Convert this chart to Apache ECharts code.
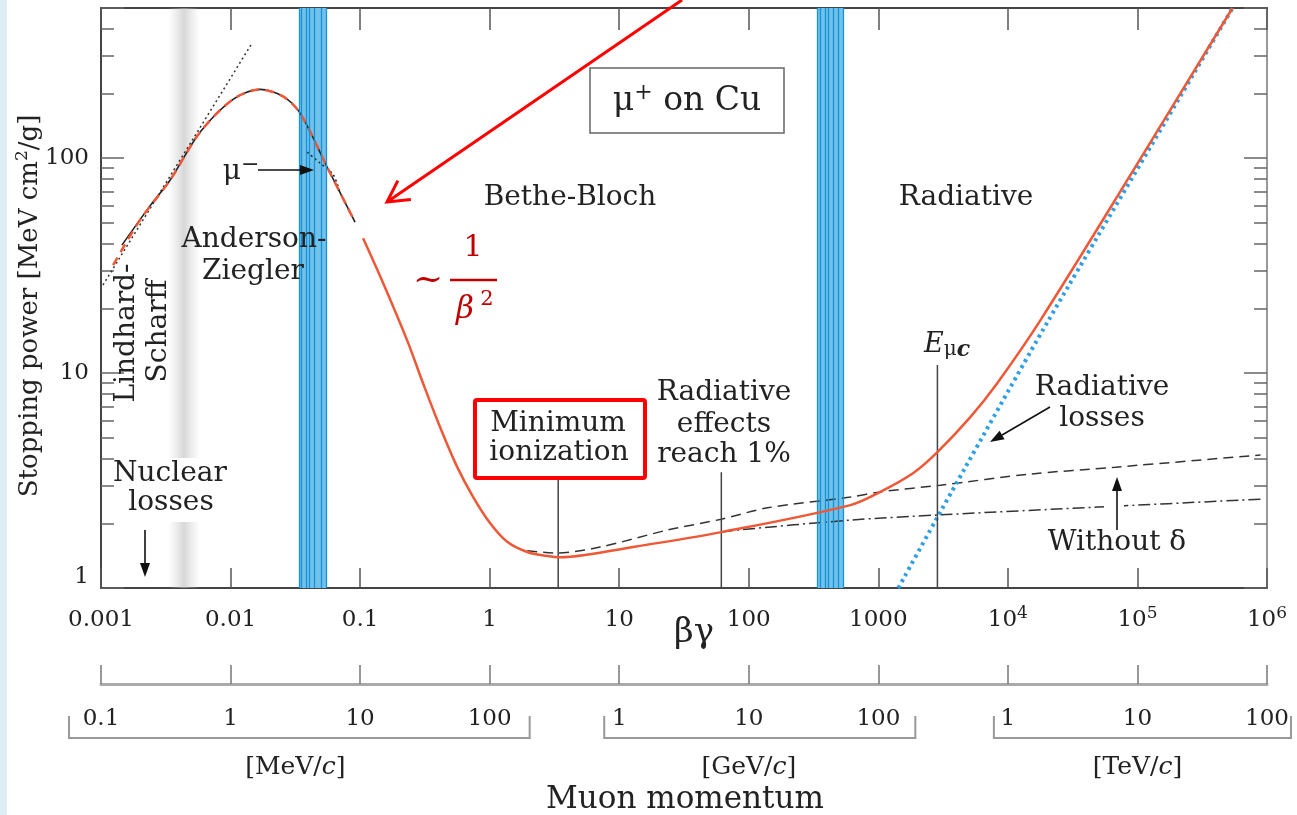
<!DOCTYPE html>
<html>
<head>
<meta charset="utf-8">
<script src="https://cdn.jsdelivr.net/npm/echarts/dist/echarts.min.js"></script>
<style>
html,body{margin:0;padding:0;background:#fff;}
#c{width:1297px;height:815px;}
</style>
</head>
<body>
<div id="c"></div>
<script>
// ---------------- data ----------------
const betaGammaRange = [0.001, 1e6];
const stoppingRange = [1, 500];
const stoppingMinorTicks = [2,3,4,5,6,7,8,9,20,30,40,50,60,70,80,90,200,300,400];

// [βγ, stopping power MeV cm²/g]
const lindhardScharff = [[0.001035,25.7],[0.01466,343]];
const andersonZiegler = [[0.00145,39.4],[0.00239,60],[0.00341,79],[0.00581,132],[0.01045,188],[0.0169,209],[0.0254,194],[0.0344,162],[0.0556,91],[0.0914,50.4]];
const muPlusLowEnergy = [[0.00124,31.8],[0.002,51.5],[0.00341,79],[0.00581,132],[0.01045,188],[0.0169,209],[0.0254,194],[0.0344,162],[0.0556,91],[0.0914,50.4]];
const muMinusLowEnergy = [[0.039,106.7],[0.0491,94.8],[0.0619,84],[0.07,69]];
const muPlusTotal = [[0.1054,42.4],[0.1507,26.2],[0.2307,14.2],[0.306,8.97],[0.414,5.61],[0.561,3.66],[0.746,2.65],[1.01,2.0],[1.365,1.64],[1.95,1.47],[2.78,1.41],[3.5,1.39],[5.27,1.42],[12.8,1.55],[61.4,1.82],[608,2.43],[1035,2.80],[1862,3.43],[2857,4.29],[5128,6.24],[8300,9.0],[17800,17.6],[93100,88],[542000,500]];
const withoutDensityEffect = [[1.95,1.49],[3.32,1.455],[7.13,1.55],[23.5,1.86],[61.4,2.09],[139,2.36],[608,2.65],[1035,2.80],[3013,3.01],[14900,3.39],[67600,3.65],[891000,4.16]];
const ionizationOnly = [[61.4,1.82],[81.5,1.86],[608,2.07],[3013,2.19],[49100,2.38],[891000,2.59]];
const radiativeLosses = [[1426,1.0],[3013,2.26],[20560,17.6],[542000,500]];

// vertical markers: [βγ, top of line]
const minimumIonization = [3.38, 3.25];
const radiativeOnePercent = [61.4, 3.46];
const criticalEnergy = [2858, 10.9];

// shaded regions (βγ)
const nuclearBand = [0.0033, 0.0058];
const lowBandLines = [0.0338,0.0352,0.0385,0.0408,0.0446,0.0501,0.0546];
const highBandLines = [337,357,390,413,452,494,539];

// momentum ruler
const mevTicks = [0.1,1,10,100];
const gevTicks = [1,10,100];
const tevTicks = [1,10,100];
const momentumUnits = ['MeV','GeV','TeV'];
const unitInMeV = [1, 1e3, 1e6];
const rulerMeVPerBetaGamma = 100; // as drawn on the figure's ruler

// ---------------- styles ----------------
const FONT = '"DejaVu Serif","Liberation Serif",serif';
const INK = '#222';
const RED = '#ef5837';
const AXIS = '#444';

function bgLabel(v){
  const e = Math.round(Math.log10(v));
  if (e < 0) return '{n|' + Math.pow(10,e).toFixed(-e) + '}';
  if (e <= 3) return '{n|' + Math.round(Math.pow(10,e)) + '}';
  return '{n|10}{s|' + e + '}';
}
function spLabel(v){
  const e = Math.log10(v);
  if (Math.abs(e - Math.round(e)) > 1e-6) return '';
  if (v === 1) return '{lo|1}';
  return '{n|' + Math.round(v) + '}';
}
const minorLog = stoppingMinorTicks.map(v => Math.log10(v));

function lineSeries(name, data, style, extra){
  return Object.assign({
    name, type:'line', data, symbol:'none', silent:true, z:3,
    xAxisIndex:0, yAxisIndex:0, animation:false,
    lineStyle: style
  }, extra||{});
}

const option = {
  animation:false,
  backgroundColor:'#fff',
  grid:{left:101, right:30, top:8, bottom:227, containLabel:false, outerBoundsMode:'none'},
  xAxis:[
    {type:'log', min:betaGammaRange[0], max:betaGammaRange[1], interval:1, position:'bottom',
      axisLine:{onZero:false, lineStyle:{color:AXIS, width:2}},
      axisTick:{inside:true, length:20, lineStyle:{color:'#555', width:1.5}},
      splitLine:{show:false},
      axisLabel:{margin:17, color:INK, fontFamily:FONT, fontSize:23, formatter:bgLabel,
        rich:{n:{fontFamily:FONT, fontSize:23, color:INK, lineHeight:30},
              s:{fontFamily:FONT, fontSize:17, color:INK, lineHeight:18, padding:[0,0,12,0]}}}},
    {type:'log', min:betaGammaRange[0], max:betaGammaRange[1], interval:1, position:'top',
      axisLine:{onZero:false, lineStyle:{color:AXIS, width:2}},
      axisTick:{inside:true, length:22, lineStyle:{color:'#555', width:1.5}},
      axisLabel:{show:false}, splitLine:{show:false}},
    {type:'log', min:betaGammaRange[0], max:betaGammaRange[1], interval:1, position:'bottom', offset:96,
      axisLine:{onZero:false, lineStyle:{color:'#aaa', width:3}},
      axisTick:{inside:true, length:19, lineStyle:{color:'#777', width:1.5}},
      axisLabel:{show:false}, splitLine:{show:false}}
  ],
  yAxis:[
    {type:'log', min:stoppingRange[0], max:stoppingRange[1], interval:1, position:'left',
      axisLine:{onZero:false, lineStyle:{color:AXIS, width:2}},
      axisTick:{inside:true, length:23, lineStyle:{color:'#666', width:1.5}},
      splitLine:{show:false},
      axisLabel:{margin:12, color:INK, fontFamily:FONT, fontSize:23, formatter:spLabel,
        rich:{n:{fontFamily:FONT, fontSize:23, color:INK},
              lo:{fontFamily:FONT, fontSize:23, color:INK, padding:[0,0,22,0]}}}},
    {type:'log', min:stoppingRange[0], max:stoppingRange[1], interval:1, position:'right',
      axisLine:{onZero:false, lineStyle:{color:'#999', width:2}},
      axisTick:{inside:true, length:23, lineStyle:{color:'#666', width:1.5}},
      axisLabel:{show:false}, splitLine:{show:false}},
    {type:'value', min:0, max:Math.log10(stoppingRange[1]), position:'left',
      axisLine:{show:false}, axisLabel:{show:false}, splitLine:{show:false},
      axisTick:{show:true, inside:true, length:13, customValues:minorLog, lineStyle:{color:'#666', width:1.5}}},
    {type:'value', min:0, max:Math.log10(stoppingRange[1]), position:'right',
      axisLine:{show:false}, axisLabel:{show:false}, splitLine:{show:false},
      axisTick:{show:true, inside:true, length:13, customValues:minorLog, lineStyle:{color:'#666', width:1.5}}}
  ],
  series:[
    {type:'line', data:[], xAxisIndex:0, yAxisIndex:0, z:1, silent:true, animation:false,
      markArea:{silent:true, animation:false, precision:8,
        data:[
          [{xAxis:nuclearBand[0], itemStyle:{color:new echarts.graphic.LinearGradient(0,0,1,0,[
              {offset:0,color:'rgba(200,200,200,0)'},{offset:0.5,color:'rgba(190,190,190,0.6)'},{offset:1,color:'rgba(200,200,200,0)'}])}},
           {xAxis:nuclearBand[1]}],
          [{xAxis:lowBandLines[0], itemStyle:{color:'#72c1e9'}},{xAxis:lowBandLines[lowBandLines.length-1]}],
          [{xAxis:highBandLines[0], itemStyle:{color:'#72c1e9'}},{xAxis:highBandLines[highBandLines.length-1]}]
        ]},
      markLine:{silent:true, animation:false, precision:8, symbol:['none','none'], label:{show:false},
        lineStyle:{color:'#1593da', width:1.3, type:'solid'},
        data: lowBandLines.concat(highBandLines).map(v => ({xAxis:v}))}
    },
    lineSeries('Lindhard-Scharff', lindhardScharff, {color:'#333', width:1.5, type:[2,3]}),
    lineSeries('Anderson-Ziegler', andersonZiegler, {color:'#222', width:1.6}, {smooth:0.3}),
    lineSeries('mu+ low energy', muPlusLowEnergy, {color:RED, width:2.5, type:[9,6]}, {smooth:0.3, z:4}),
    lineSeries('mu- low energy', muMinusLowEnergy, {color:'#222', width:1.5, type:[2,3]}, {smooth:0.3}),
    lineSeries('without density effect', withoutDensityEffect, {color:'#333', width:1.5, type:[10,6]}, {smooth:0.3}),
    lineSeries('ionization only', ionizationOnly, {color:'#333', width:1.5, type:[12,4,2,4]}, {smooth:0.3}),
    lineSeries('radiative losses', radiativeLosses, {color:'#2f9fe6', width:4, type:[3,4]}, {smooth:0.2}),
    lineSeries('mu+ on Cu', muPlusTotal, {color:RED, width:2.5}, {smooth:0.35, z:5}),
    lineSeries('minimum ionization', [[minimumIonization[0],1],[minimumIonization[0],minimumIonization[1]]], {color:'#444', width:1.5}),
    lineSeries('radiative 1%', [[radiativeOnePercent[0],1],[radiativeOnePercent[0],radiativeOnePercent[1]]], {color:'#444', width:1.5}),
    lineSeries('critical energy', [[criticalEnergy[0],1],[criticalEnergy[0],criticalEnergy[1]]], {color:'#444', width:1.5})
  ]
};

const chart = echarts.init(document.getElementById('c'), null, {renderer:'canvas'});
chart.setOption(option);

// ---------------- annotations ----------------
const G = [];
function txt(x, y, text, size, o){
  o = o || {};
  const st = {text:text, fill:o.color||INK, fontFamily:FONT, fontSize:size,
    fontStyle:o.italic?'italic':'normal', align:o.align||'center', verticalAlign:'middle'};
  if (o.rich) st.rich = o.rich;
  G.push({type:'text', x:x, y:y, z:60, rotation:o.rot||0, silent:true, style:st});
}
function seg(x1,y1,x2,y2,color,w,z){
  G.push({type:'line', z:z||60, silent:true, shape:{x1,y1,x2,y2}, style:{stroke:color, lineWidth:w}});
}
function arrow(x1,y1,x2,y2){
  const dx=x2-x1, dy=y2-y1, L=Math.hypot(dx,dy), ux=dx/L, uy=dy/L;
  const hl=14, hw=5;
  const bx=x2-ux*hl, by=y2-uy*hl;
  seg(x1,y1,bx,by,'#111',1.6);
  G.push({type:'polygon', z:60, silent:true, shape:{points:[[x2,y2],[bx-uy*hw,by+ux*hw],[bx+uy*hw,by-ux*hw]]}, style:{fill:'#111'}});
}
function openArrow(x1,y1,x2,y2,color,w){
  seg(x1,y1,x2,y2,color,w,70);
  const a=Math.atan2(y1-y2,x1-x2), L=24, sp=0.5;
  G.push({type:'polyline', z:70, silent:true, shape:{points:[
    [x2+L*Math.cos(a+sp), y2+L*Math.sin(a+sp)],[x2,y2],[x2+L*Math.cos(a-sp), y2+L*Math.sin(a-sp)]]},
    style:{stroke:color, lineWidth:w, fill:null}});
}

// left light strip of the screenshot
G.push({type:'rect', z:0, silent:true, shape:{x:0,y:0,width:7,height:815}, style:{fill:'#deeef7'}});

// y axis title
txt(30, 306, '{t|Stopping power [MeV cm}{s|2}{t|/g]}', 26, {rot:Math.PI/2,
  rich:{t:{fontFamily:FONT, fontSize:26, fill:INK}, s:{fontFamily:FONT, fontSize:17, fill:INK, padding:[0,0,14,0]}}});

// title box
G.push({type:'rect', z:59, silent:true, shape:{x:590,y:68,width:194,height:65}, style:{fill:'#fff', stroke:'#666', lineWidth:1.5}});
txt(687, 101, '{t|μ}{s|+}{t| on Cu}', 33, {rich:{t:{fontFamily:FONT, fontSize:33, fill:INK}, s:{fontFamily:FONT, fontSize:22, fill:INK, padding:[0,0,16,0]}}});

txt(570, 198, 'Bethe-Bloch', 28);
txt(966, 198, 'Radiative', 28);
txt(254, 240, 'Anderson-', 28);
txt(253, 272, 'Ziegler', 28);
txt(127, 333, 'Lindhard-', 28, {rot:Math.PI/2});
txt(159, 331, 'Scharff', 28, {rot:Math.PI/2});

G.push({type:'rect', z:58, silent:true, shape:{x:114,y:458,width:112,height:64}, style:{fill:'#fff'}});
txt(170, 474, 'Nuclear', 28);
txt(171, 503, 'losses', 28);
arrow(145, 530, 145, 577);

txt(241, 172, '{t|μ}{s|−}', 28, {rich:{t:{fontFamily:FONT, fontSize:28, fill:INK}, s:{fontFamily:FONT, fontSize:22, fill:INK, padding:[0,0,14,0]}}});
arrow(258, 170, 314, 170);

G.push({type:'rect', z:59, silent:true, shape:{x:475,y:400,width:170,height:78, r:2}, style:{fill:'#fff', stroke:'#f00', lineWidth:4}});
txt(558, 424, 'Minimum', 28);
txt(559, 453, 'ionization', 28);

txt(724, 393, 'Radiative', 28);
txt(724, 425, 'effects', 28);
txt(724, 455, 'reach 1%', 28);

txt(924, 345, '{e|E}{m|μ}{c|c}', 27, {align:'left', rich:{
  e:{fontFamily:FONT, fontSize:27, fontStyle:'italic', fill:INK},
  m:{fontFamily:FONT, fontSize:20, fill:INK, padding:[10,0,0,0]},
  c:{fontFamily:FONT, fontSize:22, fontStyle:'italic', fontWeight:'bold', fill:INK, padding:[10,0,0,0]}}});

txt(1102, 388, 'Radiative', 28);
txt(1102, 419, 'losses', 28);
arrow(1050, 407, 990, 442);

// gap in the dash-dot curve where the "Without δ" arrow crosses it
G.push({type:'rect', z:58, silent:true, shape:{x:1104,y:499,width:20,height:14}, style:{fill:'#fff'}});
txt(1117, 543, 'Without δ', 28);
arrow(1117, 530, 1117, 477);

// ~ 1/β²
const DR = '#c00000';
txt(428, 281, '~', 36, {color:DR});
txt(473, 248, '1', 30, {color:DR});
seg(450, 280, 497, 280, DR, 2.5);
txt(465, 310, 'β', 31, {color:DR, italic:true});
txt(487, 300, '2', 21, {color:DR});

// red arrow
openArrow(682, 0, 387, 202, '#ff0000', 3);

// x axis name and momentum title
txt(694, 633, 'βγ', 34);
txt(685, 800, 'Muon momentum', 31);

// momentum ruler labels & brackets (positions from the βγ axis scale)
const px = v => chart.convertToPixel({xAxisIndex:0}, v);
const groups = [mevTicks, gevTicks, tevTicks];
const bracketPad = [[-32,40],[-15,37],[-14,24]];
groups.forEach(function(ticks, gi){
  const xs = ticks.map(p => px(p * unitInMeV[gi] / rulerMeVPerBetaGamma));
  ticks.forEach(function(p, i){ txt(xs[i], 719, String(p), 23); });
  const xl = xs[0] + bracketPad[gi][0], xr = xs[xs.length-1] + bracketPad[gi][1];
  G.push({type:'polyline', z:60, silent:true, shape:{points:[[xl,716],[xl,738],[xr,738],[xr,716]]}, style:{stroke:'#999', lineWidth:2, fill:null}});
  const xm = px(Math.sqrt(ticks[0]*ticks[ticks.length-1]) * unitInMeV[gi] / rulerMeVPerBetaGamma);
  txt(xm, 767, '{u|[' + momentumUnits[gi] + '/}{i|c}{u|]}', 25, {rich:{
    u:{fontFamily:FONT, fontSize:25, fill:INK}, i:{fontFamily:FONT, fontSize:25, fontStyle:'italic', fill:INK}}});
});

chart.setOption({graphic:{elements:G}});
</script>
</body>
</html>
